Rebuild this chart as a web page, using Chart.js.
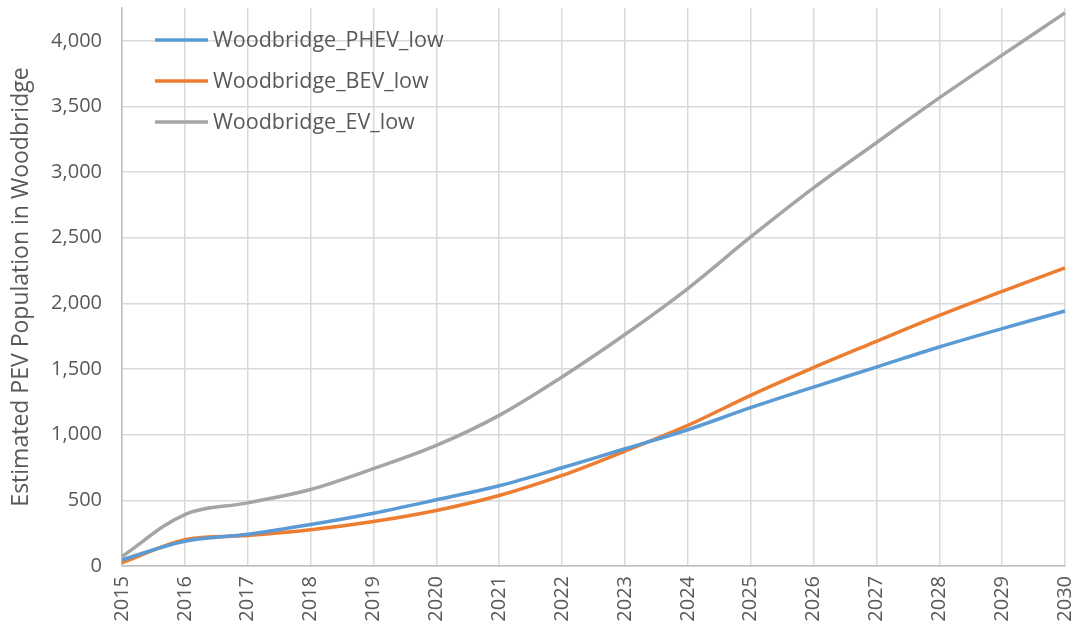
<!DOCTYPE html>
<html>
<head>
<meta charset="utf-8">
<script src="https://cdn.jsdelivr.net/npm/chart.js@4"></script>
<style>
html,body{margin:0;padding:0;background:#fff;}
#wrap{width:1080px;height:634px;}
</style>
</head>
<body>
<div id="wrap"><canvas id="c" width="1080" height="634"></canvas></div>
<script>
const years = ['2015','2016','2017','2018','2019','2020','2021','2022','2023','2024','2025','2026','2027','2028','2029','2030'];
const phevLow = [47, 189, 242, 316, 402, 504, 611, 748, 893, 1038, 1206, 1363, 1515, 1668, 1808, 1942];
const bevLow  = [24, 200, 232, 276, 339, 423, 537, 690, 875, 1071, 1300, 1511, 1711, 1909, 2092, 2270];
const evLow   = [72, 392, 481, 583, 741, 918, 1147, 1440, 1763, 2113, 2506, 2880, 3224, 3565, 3891, 4213];
const seriesNames = ['Woodbridge_PHEV_low', 'Woodbridge_BEV_low', 'Woodbridge_EV_low'];
const yTicks = [0, 500, 1000, 1500, 2000, 2500, 3000, 3500, 4000];
const yTitle = 'Estimated PEV Population in Woodbridge';
const yMax = 4250;

const FONT = '"Open Sans", "DejaVu Sans", sans-serif';
const TXT = '#595959';

const legendPlugin = {
  id: 'insideLegend',
  afterDraw(chart) {
    const ctx = chart.ctx;
    const a = chart.chartArea;
    ctx.save();
    chart.data.datasets.forEach((ds, i) => {
      const y = a.top + 32 + i * 41;
      const x0 = a.left + 33;
      ctx.strokeStyle = ds.borderColor;
      ctx.lineWidth = 3.5;
      ctx.lineCap = 'butt';
      ctx.beginPath();
      ctx.moveTo(x0, y);
      ctx.lineTo(x0 + 53, y);
      ctx.stroke();
      ctx.fillStyle = TXT;
      ctx.font = '21.5px ' + FONT;
      ctx.textBaseline = 'middle';
      ctx.textAlign = 'left';
      ctx.fillText(ds.label, x0 + 58, y + 1);
    });
    ctx.restore();
  }
};

new Chart(document.getElementById('c'), {
  type: 'line',
  data: {
    labels: years,
    datasets: [
      { label: seriesNames[0], data: phevLow, borderColor: '#5B9BD5' },
      { label: seriesNames[1], data: bevLow, borderColor: '#ED7D31' },
      { label: seriesNames[2], data: evLow, borderColor: '#A5A5A5' }
    ].map(d => Object.assign(d, { borderWidth: 3.5, pointRadius: 0, fill: false, tension: 0.35 }))
  },
  options: {
    responsive: false,
    animation: false,
    devicePixelRatio: 1,
    layout: { padding: { top: 8, right: 15, left: 0, bottom: 0 } },
    plugins: { legend: { display: false }, tooltip: { enabled: false } },
    scales: {
      x: {
        type: 'category',
        offset: false,
        grid: { color: '#D9D9D9', lineWidth: 1.5, drawTicks: false },
        border: { color: '#BFBFBF', width: 1.5 },
        ticks: { color: TXT, font: { family: FONT, size: 20 }, minRotation: 90, maxRotation: 90, padding: 10, autoSkip: false },
        afterFit(s) { s.height = 68; s.paddingLeft = 0; s.paddingRight = 0; }
      },
      y: {
        type: 'linear',
        min: 0, max: yMax,
        grid: { drawTicks: false, lineWidth: 1.5, color: '#D9D9D9' },
        border: { color: '#BFBFBF', width: 1.5 },
        ticks: {
          autoSkip: false, color: TXT, font: { family: FONT, size: 20 }, padding: 20,
          callback: v => Number(v).toLocaleString('en-US')
        },
        afterBuildTicks(s) { s.ticks = yTicks.map(v => ({ value: v })); },
        title: { display: true, text: yTitle, color: TXT, font: { family: FONT, size: 23 }, padding: { top: 8, bottom: 0 } },
        afterFit(s) { s.width = 122; s.paddingTop = 0; s.paddingBottom = 0; }
      }
    }
  },
  plugins: [legendPlugin]
});
</script>
</body>
</html>
